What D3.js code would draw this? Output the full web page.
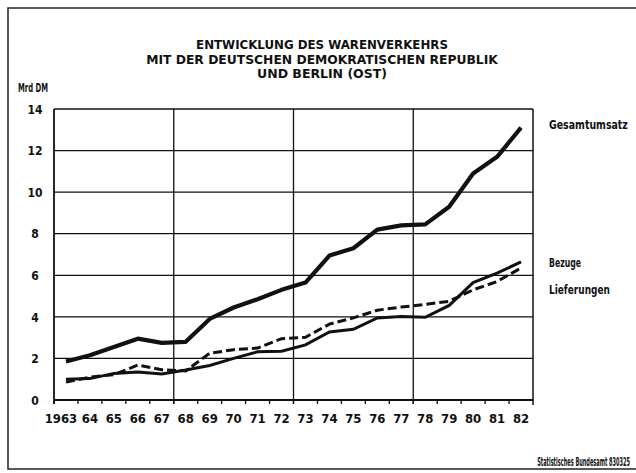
<!DOCTYPE html>
<html><head><meta charset="utf-8">
<script src="https://cdn.jsdelivr.net/npm/d3@7"></script>
<style>
body{margin:0;background:#fff;}
text{font-family:"DejaVu Sans Condensed","DejaVu Sans",sans-serif;font-stretch:condensed;fill:#111;}
</style></head>
<body><svg id="c" width="636" height="473"></svg>
<script>
const years = ["1963","64","65","66","67","68","69","70","71","72","73","74","75","76","77","78","79","80","81","82"];
const gesamtumsatz = [1.85,2.15,2.55,2.95,2.75,2.8,3.9,4.45,4.85,5.3,5.65,6.95,7.3,8.2,8.4,8.45,9.3,10.9,11.7,13.1];
const bezuege = [1.0,1.03,1.28,1.35,1.25,1.44,1.66,2.0,2.32,2.35,2.65,3.27,3.4,3.95,4.02,3.98,4.55,5.65,6.1,6.65];
const lieferungen = [0.86,1.1,1.22,1.68,1.46,1.4,2.25,2.42,2.5,2.95,3.02,3.65,3.95,4.32,4.47,4.6,4.75,5.3,5.7,6.35];
const yTicks = [0,2,4,6,8,10,12,14];
const titleLines = ["ENTWICKLUNG DES WARENVERKEHRS","MIT DER DEUTSCHEN DEMOKRATISCHEN REPUBLIK","UND BERLIN (OST)"];
const seriesLabels = ["Gesamtumsatz","Bezuge","Lieferungen"];

const svg = d3.select("#c");
const L = 54, R = 533, T = 109, B = 400;
const x = d3.scaleBand().domain(years).range([L, R]).paddingInner(0).paddingOuter(0);
const y = d3.scaleLinear().domain([0, 14]).range([B, T]);
const cx = d => x(d) + x.bandwidth() / 2;

// place a text at (px,py) and squeeze it horizontally to a target width
function fitText(parent, str, px, py, width, size, weight, anchor) {
  const g = parent.append("g");
  const t = g.append("text").attr("font-size", size).attr("font-weight", weight)
    .attr("text-anchor", anchor || "start").text(str);
  const nat = t.node().getComputedTextLength();
  const k = Math.min(1.2, width / nat);
  g.attr("transform", `translate(${px},${py}) scale(${k},1)`);
  return g;
}

// outer frame (left, top, bottom)
svg.append("path").attr("d", "M640,8 L8,8 L8,469 L640,469")
  .attr("fill", "none").attr("stroke", "#222").attr("stroke-width", 1.5);

// title
titleLines.forEach((s, i) => fitText(svg, s, 322, 49 + i * 14.5, [252, 352, 130][i], 13, 600, "middle"));

fitText(svg, "Mrd DM", 18, 92, 30, 12, 600, "start");

// horizontal grid
svg.append("g").selectAll("line").data(yTicks).enter().append("line")
  .attr("x1", L).attr("x2", R).attr("y1", d => y(d)).attr("y2", d => y(d))
  .attr("stroke", "#111").attr("stroke-width", d => d === 0 ? 2 : 1.3);

// vertical grid every 5 years + borders
const vIdx = [0, 5, 10, 15];
svg.append("g").selectAll("line").data(vIdx).enter().append("line")
  .attr("x1", d => x(years[d])).attr("x2", d => x(years[d]))
  .attr("y1", T).attr("y2", B + 4)
  .attr("stroke", "#111").attr("stroke-width", d => d === 0 ? 1.8 : 1.3);
svg.append("line").attr("x1", R).attr("x2", R).attr("y1", T).attr("y2", B + 5)
  .attr("stroke", "#111").attr("stroke-width", 1.5);

// x axis labels (centred in each year band)
const xAxis = d3.axisBottom(x).tickSize(0).tickFormat(d => d);
const gx = svg.append("g").attr("transform", `translate(0,${B})`).call(xAxis);
gx.select(".domain").remove();
gx.selectAll(".tick text").attr("dy", 0).attr("y", 23).attr("font-size", 13).attr("font-weight", "bold")
  .attr("font-family", null).attr("fill", "#111");
gx.selectAll(".tick").filter(d => d === "1963").select("text").attr("x", -5);
// ticks at band boundaries
svg.append("g").selectAll("line").data(years).enter().append("line")
  .attr("x1", d => x(d)).attr("x2", d => x(d)).attr("y1", B).attr("y2", B + 4)
  .attr("stroke", "#111").attr("stroke-width", 1.3);

// y labels
const yAxis = d3.axisLeft(y).tickValues(yTicks).tickSize(0).tickFormat(d3.format("d"));
const gy = svg.append("g").attr("transform", `translate(${L},0)`).call(yAxis);
gy.select(".domain").remove();
gy.selectAll(".tick text").attr("x", -19).attr("text-anchor", "middle").attr("dy", "0.35em")
  .attr("font-size", 12).attr("font-weight", "bold")
  .attr("font-family", null).attr("fill", "#111");

// lines
const line = d3.line().x((d, i) => cx(years[i])).y(d => y(d)).curve(d3.curveLinear);
svg.append("path").datum(lieferungen).attr("d", line).attr("fill", "none")
  .attr("stroke", "#111").attr("stroke-width", 3).attr("stroke-dasharray", "9,4");
svg.append("path").datum(bezuege).attr("d", line).attr("fill", "none")
  .attr("stroke", "#111").attr("stroke-width", 3);
svg.append("path").datum(gesamtumsatz).attr("d", line).attr("fill", "none")
  .attr("stroke", "#111").attr("stroke-width", 4.2).attr("stroke-linejoin", "round");

// series labels
seriesLabels.forEach((s, i) => fitText(svg, s, 549, [129, 267, 294][i], [79, 32, 61][i], 12.5, 600, "start"));

fitText(svg, "Statistisches Bundesamt 830325", 630, 466, 93, 12, 600, "end");
</script></body></html>
